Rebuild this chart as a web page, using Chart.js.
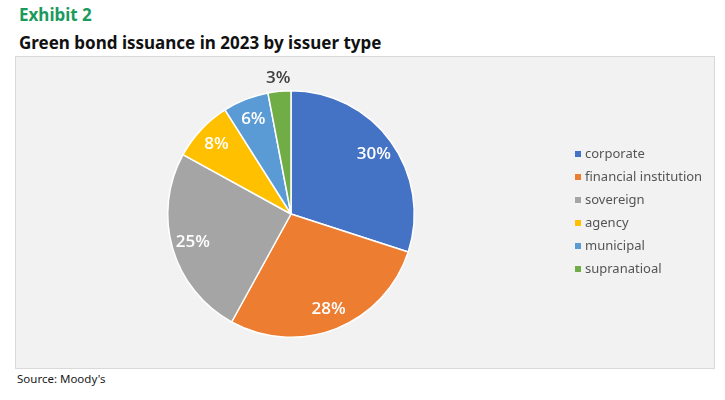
<!DOCTYPE html>
<html>
<head>
<meta charset="utf-8">
<script src="https://cdn.jsdelivr.net/npm/chart.js@4.4.1/dist/chart.umd.min.js"></script>
<style>
    html, body { margin: 0; padding: 0; background: #ffffff; }
    body { width: 725px; height: 400px; position: relative; overflow: hidden; font-family: "Noto Sans", sans-serif; }
    #exhibit { position: absolute; left: 19px; top: 3px; font-size: 17px; font-weight: 700; color: #1a9a5c; }
    #title { position: absolute; left: 19px; top: 31px; font-size: 17px; font-weight: 700; color: #111111; }
    #box { position: absolute; left: 15px; top: 56px; width: 698px; height: 311px; background: #f2f2f2; border: 1px solid #d9d9d9; }
    #source { position: absolute; left: 17px; top: 371px; font-size: 11.5px; color: #1a1a1a; }
    canvas { display: block; }
</style>
</head>
<body>
<div id="exhibit">Exhibit 2</div>
<div id="title">Green bond issuance in 2023 by issuer type</div>
<div id="box"><canvas id="pie-chart" width="698" height="311"></canvas></div>
<div id="source">Source: Moody's</div>
<script>
    // --- Data ---
    const issuerTypes = ['corporate', 'financial institution', 'sovereign', 'agency', 'municipal', 'supranatioal'];
    const issuanceShare = [30, 28, 25, 8, 6, 3];
    const sliceColors = ['#4472c4', '#ed7d31', '#a5a5a5', '#ffc000', '#5b9bd5', '#70ad47'];

    // --- Plugins ---
    // percentage labels, small slices go outside the pie
    const sliceLabels = {
        id: 'sliceLabels',
        afterDatasetsDraw(chart) {
            const ctx = chart.ctx;
            const meta = chart.getDatasetMeta(0);
            ctx.save();
            ctx.font = '600 17px "Open Sans", "Noto Sans", sans-serif';
            ctx.textAlign = 'center';
            ctx.textBaseline = 'middle';
            meta.data.forEach((arc, i) => {
                const p = arc.getProps(['x', 'y', 'startAngle', 'endAngle', 'outerRadius']);
                const mid = (p.startAngle + p.endAngle) / 2;
                const outside = issuanceShare[i] < 5;
                const r = p.outerRadius * (outside ? 1.11 : 0.83);
                ctx.fillStyle = outside ? '#404040' : '#ffffff';
                ctx.fillText(issuanceShare[i] + '%', p.x + Math.cos(mid) * r, p.y + Math.sin(mid) * r);
            });
            ctx.restore();
        }
    };

    // legend drawn at a fixed spot to the right of the pie
    const sideLegend = {
        id: 'sideLegend',
        afterDraw(chart) {
            const ctx = chart.ctx;
            const x = 559, y0 = 97, step = 23;
            ctx.save();
            ctx.font = '13px "Noto Sans", sans-serif';
            ctx.textBaseline = 'middle';
            chart.data.labels.forEach((label, i) => {
                const y = y0 + i * step;
                ctx.fillStyle = sliceColors[i];
                ctx.fillRect(x, y - 3, 6, 6);
                ctx.fillStyle = '#555555';
                ctx.fillText(label, x + 10, y);
            });
            ctx.restore();
        }
    };

    new Chart(document.getElementById('pie-chart'), {
        type: 'pie',
        data: {
            labels: issuerTypes,
            datasets: [{
                data: issuanceShare,
                backgroundColor: sliceColors,
                borderColor: '#ffffff',
                borderWidth: 1.5
            }]
        },
        options: {
            responsive: false,
            animation: false,
            layout: { padding: { left: 151, right: 299, top: 33, bottom: 30 } },
            plugins: {
                legend: { display: false },
                tooltip: { enabled: false }
            }
        },
        plugins: [sliceLabels, sideLegend]
    });
</script>
</body>
</html>
